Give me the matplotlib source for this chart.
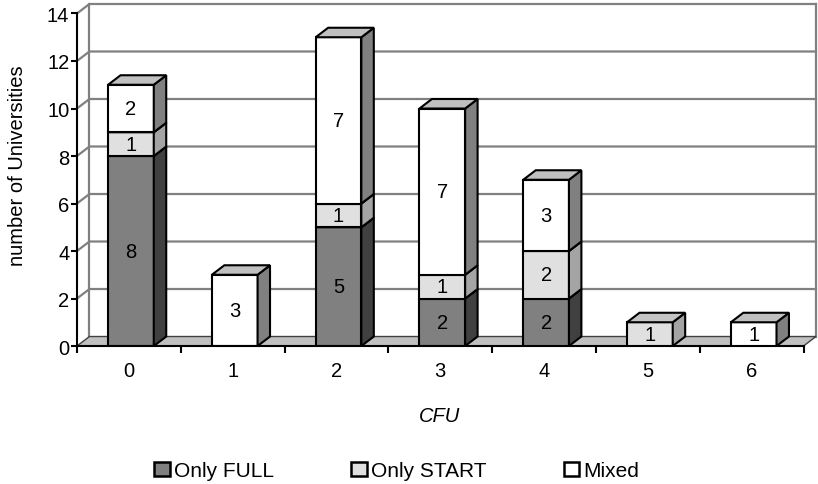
import numpy as np
import matplotlib.pyplot as plt
from matplotlib.patches import Polygon, Patch

plt.rcParams['font.family'] = ['Liberation Sans', 'DejaVu Sans']

# CFU categories and stacked counts per university group
cfu = ['0', '1', '2', '3', '4', '5', '6']
only_full = [8, 0, 5, 2, 2, 0, 0]
only_start = [1, 0, 1, 1, 2, 1, 0]
mixed = [2, 3, 7, 7, 3, 0, 1]
names = ['Only FULL', 'Only START', 'Mixed']

# front / side / top shades for the fake 3D look
front = ['#808080', '#e0e0e0', '#ffffff']
side = ['#404040', '#a4a4a4', '#808080']
top = ['#606060', '#c4c4c4', '#c0c0c0']

dx, dy = 0.12, 0.4      # depth offset of the 3D boxes
w = 0.22                # half width of a bar
ymax = 14
fs = 14.5

fig = plt.figure(figsize=(8.18, 4.85), dpi=100)
ax = fig.add_axes([0.0941, 0.2845, 0.9034, 0.7052])
ax.set_xlim(-0.5, len(cfu) - 0.5 + dx)
ax.set_ylim(0, ymax + dy)

xl, xr = -0.5, len(cfu) - 0.5

# walls and floor
ax.add_patch(Polygon([(xl, 0), (xr, 0), (xr + dx, dy), (xl + dx, dy)],
                     closed=True, fc='#c0c0c0', ec='#404040', lw=1, zorder=2, clip_on=False))
for v in range(2, ymax + 1, 2):
    ax.plot([xl, xl + dx, xr + dx], [v, v + dy, v + dy], color='#808080', lw=1.6, zorder=1,
            clip_on=False)
ax.plot([xl + dx, xl + dx], [dy, ymax + dy], color='#808080', lw=1.6, zorder=1, clip_on=False)
ax.plot([xr + dx, xr + dx], [dy, ymax + dy], color='#808080', lw=1.6, zorder=1, clip_on=False)

series = [only_full, only_start, mixed]
z = 3
for i in range(len(cfu)):
    x = i + 0.02
    b = 0
    for k, vals in enumerate(series):
        v = vals[i]
        if v == 0:
            continue
        ax.bar(x, v, bottom=b, width=2 * w, color=front[k], edgecolor='black', lw=1.5, zorder=z)
        ax.add_patch(Polygon([(x + w, b), (x + w + dx, b + dy), (x + w + dx, b + v + dy), (x + w, b + v)],
                             closed=True, fc=side[k], ec='black', lw=1.5, zorder=z))
        ax.add_patch(Polygon([(x - w, b + v), (x - w + dx, b + v + dy), (x + w + dx, b + v + dy), (x + w, b + v)],
                             closed=True, fc=top[k], ec='black', lw=1.5, zorder=z))
        ax.text(x, b + v / 2, str(v), ha='center', va='center', fontsize=fs, zorder=z + 1)
        b += v
        z += 2

# axes
for s in ['top', 'right']:
    ax.spines[s].set_visible(False)
ax.spines['left'].set_bounds(0, ymax)
ax.spines['bottom'].set_bounds(xl, xr)
for s in ['left', 'bottom']:
    ax.spines[s].set_linewidth(1.5)
    ax.spines[s].set_zorder(20)

ax.set_yticks(range(0, ymax + 1, 2))
ax.tick_params(axis='y', length=4, width=1.5, labelsize=fs, pad=1.5)
ax.set_xticks(np.arange(xl, xr + 0.01, 1))
ax.set_xticklabels([])
ax.tick_params(axis='x', which='major', length=5, width=1.5)
ax.set_xticks(range(len(cfu)), minor=True)
ax.set_xticklabels(cfu, minor=True)
ax.tick_params(axis='x', which='minor', length=0, labelsize=fs, pad=10.5)

ax.set_ylabel('number of Universities', fontsize=fs)
ax.yaxis.set_label_coords(-0.068, 0.53)
ax.set_xlabel('CFU', fontsize=fs, style='italic')
ax.xaxis.set_label_coords(0.491, -0.175)

handles = [Patch(fc=front[k], ec='black', lw=1.8) for k in range(3)]
fig.legend(handles, names, loc='center', bbox_to_anchor=(0.485, 0.027), ncol=3, frameon=False,
           fontsize=15, handlelength=0.75, handleheight=0.7, handletextpad=0.2, columnspacing=3.7,
           borderpad=0)

fig.savefig('out.png', dpi=100)
